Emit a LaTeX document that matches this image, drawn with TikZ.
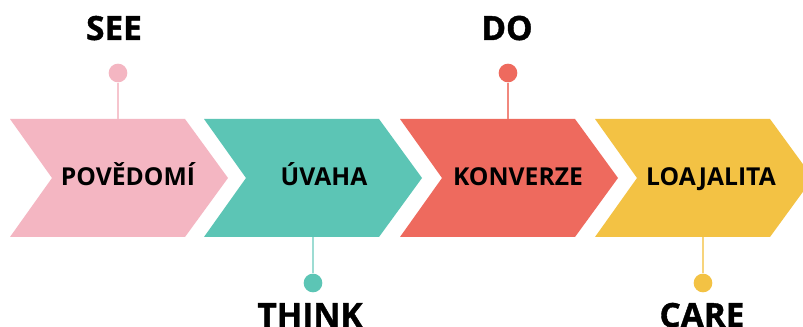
\documentclass[tikz,border=0pt]{standalone}
\usepackage{fontspec}
\setmainfont{Open Sans}
\newfontfamily\heavyfont{Open Sans}[BoldFeatures={FakeBold=1.2}]
\usepackage{tikz}
\usetikzlibrary{calc}
\definecolor{seepink}{HTML}{F4B6C2}
\definecolor{thinkteal}{HTML}{5CC5B5}
\definecolor{dored}{HTML}{EE6A5E}
\definecolor{careyellow}{HTML}{F3C244}
\def\chevron[#1](#2,#3){\fill[#1] (#2,#3) -- ++(175,0) -- ++(43,-59) -- ++(-43,-59) -- ++(-175,0) -- ++(42,59) -- cycle;}
\tikzset{
	stage/.style={font=\fontsize{18.5}{18.5}\selectfont\bfseries, inner sep=0pt, anchor=base},
	phase/.style={font=\heavyfont\fontsize{25}{25}\selectfont\bfseries, inner sep=0pt, anchor=base},
	dot/.style={circle, inner sep=0pt, minimum size=14},
	stem/.style={line width=0.8pt}
}

\begin{document}
\begin{tikzpicture}[x=0.75pt, y=0.75pt]
			%%%%% START %%%%%
			
			\clip (0, 0) rectangle (803, 327);
			\fill[white] (0, 0) rectangle (803, 327);
			
			\chevron[seepink](10, 208);
			\chevron[thinkteal](204, 208);
			\chevron[dored](400, 208);
			\chevron[careyellow](595, 208);
			
			\node[stage] (povedomi) at (128, 141) {POVĚDOMÍ};
			\node[stage] (uvaha) at (324, 141) {ÚVAHA};
			\node[stage] (konverze) at (518, 141) {KONVERZE};
			\node[stage] (loajalita) at (711, 141) {LOAJALITA};
			
			\coordinate (seetop) at (118, 208);
			\node[dot, fill=seepink] (seedot) at (118, 254) {};
			\draw[stem, color=seepink!80] (seedot) -- (seetop);
			\node[phase] (see) at (114, 287) {SEE};
			
			\coordinate (thinkbottom) at (313, 90);
			\node[dot, fill=thinkteal] (thinkdot) at (313, 44) {};
			\draw[stem, color=thinkteal!60] (thinkdot) -- (thinkbottom);
			\node[phase] (think) at (310, 0) {THINK};
			
			\coordinate (dotop) at (508, 208);
			\node[dot, fill=dored] (dodot) at (508, 254) {};
			\draw[stem, color=dored!80] (dodot) -- (dotop);
			\node[phase] (do) at (507, 287) {DO};
			
			\coordinate (carebottom) at (703, 90);
			\node[dot, fill=careyellow] (caredot) at (703, 44) {};
			\draw[stem, color=careyellow!70] (caredot) -- (carebottom);
			\node[phase] (care) at (702, 0) {CARE};
			
			%%%%% END %%%%%
		\end{tikzpicture}
\end{document}
